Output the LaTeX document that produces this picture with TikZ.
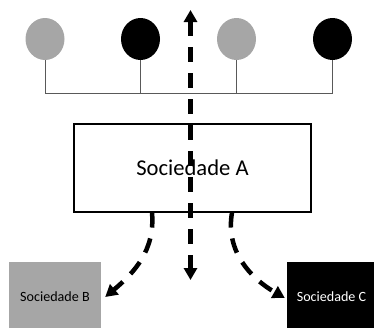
\documentclass[tikz,border=0pt]{standalone}
\usepackage{fontspec}
\setmainfont{Carlito}
\usetikzlibrary{arrows.meta,shapes.geometric}
\definecolor{ballgray}{HTML}{A6A6A6}
\definecolor{linkgray}{HTML}{595959}
\begin{document}
\begin{tikzpicture}[x=1pt,y=-1pt,
  ball/.style={ellipse,minimum width=39pt,minimum height=42pt,inner sep=0pt},
  grayball/.style={ball,fill=ballgray},
  blackball/.style={ball,fill=black},
  link/.style={draw=linkgray,line width=1pt},
  company/.style={rectangle,inner sep=0pt,font=\fontsize{14.1}{17}\selectfont},
  flow/.style={line width=4.5pt,dash pattern=on 15pt off 11pt},
  tip/.style={Triangle[width=13pt,length=12pt]}
]
\useasboundingbox (0,0) rectangle (374,327);

% members
\node[grayball]  (m1) at (45,39) {};
\node[blackball] (m2) at (140.5,39) {};
\node[grayball]  (m3) at (236.5,39) {};
\node[blackball] (m4) at (332.5,39) {};

% branch joining the members
\draw[link] (m1.south) -- (m1.south |- 0,93) -- (m4.south |- 0,93) -- (m4.south);
\draw[link] (m2.south) -- (m2.south |- 0,93);
\draw[link] (m3.south) -- (m3.south |- 0,93);

% main company
\node[draw,line width=1.2pt,minimum width=237pt,minimum height=88pt,inner sep=0pt,
      font=\fontsize{22.6}{27}\selectfont] (A) at (192.5,168) {Sociedade A};

% resulting companies
\node[company,fill=ballgray,minimum width=92pt,minimum height=70pt] (B) at (55,297) {Sociedade B};
\node[company,fill=black,text=white,minimum width=89pt,minimum height=70pt] (C) at (331.5,297) {Sociedade C};

% flows
\coordinate (up) at (190.5,10);
\coordinate (down) at (190.5,280);
\draw[flow,{Triangle[width=13pt,length=12pt]}-{Triangle[width=13pt,length=12pt]}] (up) -- (down);
\draw[flow,-{Triangle[width=13pt,length=12pt]}] ([xshift=-40.5pt]A.south) to[out=-85,in=40] ([xshift=4pt]B.east);
\draw[flow,-{Triangle[width=13pt,length=12pt]}] ([xshift=39.5pt]A.south) to[out=-100,in=150] ([xshift=-2pt,yshift=-1pt]C.west);
\end{tikzpicture}
\end{document}
